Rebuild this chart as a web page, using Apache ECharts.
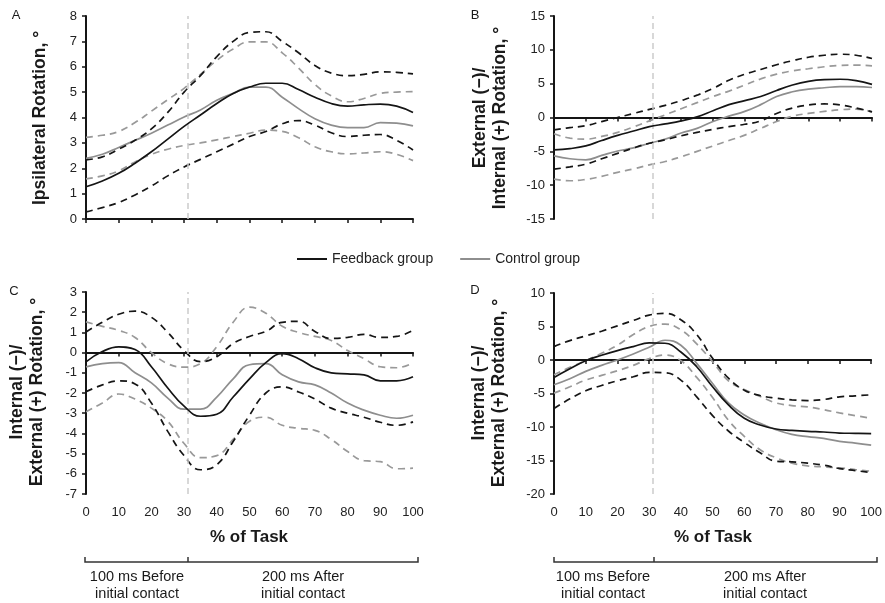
<!DOCTYPE html>
<html>
<head>
<meta charset="utf-8">
<script src="https://cdn.jsdelivr.net/npm/echarts@6/dist/echarts.min.js"></script>
<style>html,body{margin:0;padding:0;background:#fff;}#c{width:885px;height:603px;}</style>
</head>
<body>
<div id="c"></div>
<script>
// % of task sample positions
const xs = [0,5,10,15,20,25,30,35,40,45,50,55,60,65,70,75,80,85,90,95,100];
const xTicks = [0,10,20,30,40,50,60,70,80,90,100];
const contactPct = 31;

// Panel A: Ipsilateral rotation
const aFbMean = [1.27,1.5,1.8,2.2,2.65,3.15,3.65,4.1,4.55,4.95,5.2,5.35,5.35,5.1,4.8,4.55,4.45,4.5,4.53,4.45,4.2];
const aFbUp   = [2.33,2.45,2.75,3.1,3.55,4.2,5.0,5.65,6.4,7.0,7.35,7.38,7.0,6.55,6.05,5.75,5.65,5.7,5.8,5.78,5.72];
const aFbLo   = [0.28,0.45,0.65,0.95,1.3,1.7,2.05,2.35,2.65,2.95,3.25,3.45,3.75,3.88,3.7,3.4,3.25,3.3,3.33,3.1,2.72];
const aCtMean = [2.39,2.55,2.82,3.1,3.38,3.7,4.02,4.3,4.68,4.95,5.2,5.2,4.8,4.35,3.95,3.7,3.6,3.6,3.8,3.78,3.67];
const aCtUp   = [3.22,3.3,3.45,3.8,4.25,4.7,5.15,5.7,6.25,6.7,6.98,6.98,6.55,5.95,5.3,4.85,4.62,4.75,4.95,5.0,5.02];
const aCtLo   = [1.58,1.7,1.9,2.25,2.55,2.75,2.9,3.0,3.12,3.25,3.38,3.5,3.45,3.2,2.85,2.65,2.57,2.6,2.65,2.55,2.3];

// Panel B: External(-)/Internal(+) rotation
const bFbMean = [-4.78,-4.6,-4.2,-3.4,-2.65,-2.0,-1.35,-0.95,-0.5,0.1,1.0,1.9,2.5,3.1,4.0,4.8,5.35,5.6,5.65,5.45,4.9];
const bFbUp   = [-1.82,-1.5,-1.2,-0.6,0.0,0.6,1.2,1.8,2.5,3.3,4.3,5.5,6.4,7.1,7.8,8.4,8.9,9.2,9.35,9.2,8.72];
const bFbLo   = [-7.64,-7.3,-6.9,-6.1,-5.3,-4.5,-3.8,-3.3,-2.7,-2.2,-1.75,-1.35,-1.0,-0.5,0.6,1.4,1.85,2.0,1.85,1.4,0.84];
const bCtMean = [-5.67,-6.1,-6.25,-5.6,-4.95,-4.5,-3.8,-3.2,-2.3,-1.6,-0.6,0.2,0.9,1.9,3.1,3.8,4.2,4.4,4.55,4.55,4.43];
const bCtUp   = [-2.4,-3.05,-3.2,-2.8,-2.2,-1.4,-0.5,0.4,1.3,2.2,3.1,3.9,4.8,5.7,6.4,6.9,7.2,7.5,7.7,7.75,7.64];
const bCtLo   = [-9.1,-9.35,-9.15,-8.7,-8.1,-7.6,-7.0,-6.5,-5.8,-5.0,-4.2,-3.4,-2.6,-1.6,-0.6,0.2,0.6,0.9,1.15,1.25,0.84];

// Panel C: Internal(-)/External(+) rotation
const cFbMean = [-0.46,0.05,0.28,0.15,-0.7,-1.75,-2.65,-3.15,-3.05,-2.2,-1.3,-0.5,-0.05,-0.3,-0.75,-1.0,-1.05,-1.1,-1.4,-1.4,-1.2];
const cFbUp   = [1.02,1.5,1.9,2.05,1.75,1.0,0.1,-0.45,-0.2,0.45,0.8,1.05,1.5,1.55,1.05,0.7,0.75,0.9,0.75,0.8,1.1];
const cFbLo   = [-1.94,-1.6,-1.4,-1.55,-2.5,-3.9,-5.1,-5.8,-5.55,-4.4,-3.1,-2.0,-1.7,-1.95,-2.3,-2.75,-3.0,-3.2,-3.45,-3.6,-3.43];
const cCtMean = [-0.71,-0.55,-0.5,-1.0,-1.5,-2.25,-2.8,-2.8,-2.2,-1.3,-0.6,-0.55,-1.1,-1.45,-1.6,-2.0,-2.5,-2.85,-3.1,-3.25,-3.1];
const cCtUp   = [1.52,1.3,1.1,0.75,0.0,-0.55,-0.72,-0.55,0.3,1.5,2.25,1.95,1.3,1.0,0.8,0.6,0.1,-0.3,-0.7,-0.75,-0.5];
const cCtLo   = [-2.93,-2.5,-2.05,-2.3,-2.75,-3.4,-4.5,-5.2,-5.1,-4.3,-3.4,-3.2,-3.6,-3.75,-3.85,-4.3,-4.9,-5.35,-5.4,-5.75,-5.72];

// Panel D: Internal(-)/External(+) rotation
const dFbMean = [-2.6,-1.3,-0.1,0.7,1.4,2.0,2.55,2.5,1.2,-1.0,-4.0,-6.7,-8.7,-9.7,-10.3,-10.5,-10.65,-10.75,-10.9,-10.95,-11.0];
const dFbUp   = [2.0,2.9,3.6,4.3,5.1,5.9,6.7,6.95,6.0,3.8,0.25,-2.7,-4.5,-5.3,-5.7,-5.95,-6.05,-5.9,-5.5,-5.35,-5.2];
const dFbLo   = [-7.25,-5.8,-4.6,-3.8,-3.1,-2.5,-1.85,-1.9,-3.0,-5.5,-8.3,-10.6,-12.3,-13.85,-15.1,-15.2,-15.4,-15.7,-16.2,-16.5,-16.8];
const dCtMean = [-3.7,-2.8,-1.7,-0.8,0.0,0.9,1.9,2.95,2.2,-0.5,-3.5,-6.4,-8.2,-9.45,-10.4,-11.1,-11.45,-11.7,-12.15,-12.4,-12.7];
const dCtUp   = [-2.2,-1.1,-0.1,1.0,2.2,3.8,5.0,5.35,4.5,2.4,-0.25,-3.1,-4.4,-5.45,-6.4,-6.8,-7.0,-7.4,-7.9,-8.3,-8.7];
const dCtLo   = [-4.95,-4.0,-3.0,-2.3,-1.6,-0.8,0.2,0.75,-0.1,-2.6,-5.6,-9.0,-11.4,-13.4,-14.6,-15.4,-15.8,-15.95,-16.1,-16.35,-16.6];

const FONT = 'Liberation Sans, Arial, Helvetica, sans-serif';
const BLACK = '#151515';
const GRAY = '#8e8e8e';
const GRAYD = '#999999';

const chart = echarts.init(document.getElementById('c'), null, {renderer: 'canvas'});

function pairs(vals){ return xs.map((x,i)=>[x, vals[i]]); }
function ser(name, xi, yi, vals, color, dashed, z){
  return {
    type:'line', name:name, xAxisIndex:xi, yAxisIndex:yi, data:pairs(vals),
    smooth:0.45, symbol:'none', showSymbol:false, silent:true, z:z,
    lineStyle:{color:color, width:1.7, type: dashed ? [7,5] : 'solid'},
    itemStyle:{color:color}
  };
}
function vline(xi, yi){
  return {
    type:'line', name:'contact', xAxisIndex:xi, yAxisIndex:yi, data:[], silent:true, z:1,
    markLine:{silent:true, symbol:['none','none'], label:{show:false},
      lineStyle:{color:'#cccccc', width:1.5, type:[6,4]},
      data:[{xAxis:contactPct}]}
  };
}
function panelSeries(xi, yi, fm, fu, fl, cm, cu, cl){
  return [
    vline(xi, yi),
    ser('Control upper', xi, yi, cu, GRAYD, true, 2),
    ser('Control lower', xi, yi, cl, GRAYD, true, 2),
    ser('Control group', xi, yi, cm, GRAY, false, 3),
    ser('Feedback upper', xi, yi, fu, BLACK, true, 4),
    ser('Feedback lower', xi, yi, fl, BLACK, true, 4),
    ser('Feedback group', xi, yi, fm, BLACK, false, 5)
  ];
}

const grids = [
  {left:86, top:16, width:327, height:203},
  {left:554, top:16, width:318, height:203},
  {left:86, top:292, width:327, height:202},
  {left:554, top:293, width:318, height:201}
];

function tickAxis(gi){
  return {
    type:'value', gridIndex:gi, min:0, max:100, interval:10, position:'bottom',
    axisLine:{show:true, onZero:true, lineStyle:{color:BLACK, width:2}},
    axisTick:{show:true, inside:false, length:4, lineStyle:{color:BLACK, width:1.5}},
    axisLabel:{show:false}, splitLine:{show:false}
  };
}
function labelAxis(gi){
  return {
    type:'value', gridIndex:gi, min:0, max:100, interval:10, position:'bottom',
    axisLine:{show:false, onZero:false}, axisTick:{show:false},
    axisLabel:{show:true, margin:12, fontSize:13, color:'#222', fontFamily:FONT,
      formatter:function(v){ return xTicks.indexOf(v) >= 0 ? String(v) : ''; }},
    splitLine:{show:false}
  };
}
function yAxisDef(gi, min, max, interval){
  return {
    type:'value', gridIndex:gi, min:min, max:max, interval:interval,
    axisLine:{show:true, onZero:false, lineStyle:{color:BLACK, width:2}},
    axisTick:{show:true, inside:false, length:4, lineStyle:{color:BLACK, width:1.5}},
    axisLabel:{show:true, margin:9, fontSize:13, color:'#222', fontFamily:FONT},
    splitLine:{show:false}
  };
}

function txt(x, y, text, size, weight, rot){
  return {type:'text', x:x, y:y, rotation:rot||0, silent:true,
    style:{text:text, fill:'#1a1a1a', font:(weight||'normal') + ' ' + size + 'px ' + FONT,
      textAlign:'center', textVerticalAlign:'middle', lineHeight: size*1.18}};
}
function bracket(x0, xm, x1, y){
  return [
    {type:'polyline', silent:true, shape:{points:[[x0,y-5],[x0,y],[x1,y],[x1,y-5]]},
      style:{stroke:'#333', lineWidth:1.5, fill:null}},
    {type:'line', silent:true, shape:{x1:xm, y1:y, x2:xm, y2:y-5},
      style:{stroke:'#333', lineWidth:1.5}}
  ];
}

const graphics = [
  txt(16, 15, 'A', 13, 'normal'),
  txt(475, 15, 'B', 13, 'normal'),
  txt(14, 291, 'C', 13, 'normal'),
  txt(475, 290, 'D', 13, 'normal'),
  txt(40, 118, 'Ipsilateral Rotation, °', 17.5, 'bold', Math.PI/2),
  txt(490, 118, 'External (\u2212)/\nInternal (+) Rotation, °', 17.5, 'bold', Math.PI/2),
  txt(27, 392, 'Internal (\u2212)/\nExternal (+) Rotation, °', 17.5, 'bold', Math.PI/2),
  txt(489, 393, 'Internal (\u2212)/\nExternal (+) Rotation, °', 17.5, 'bold', Math.PI/2),
  txt(249, 537, '% of Task', 17, 'bold'),
  txt(713, 537, '% of Task', 17, 'bold'),
  txt(137, 577, '100 ms Before', 14.5, 'normal'),
  txt(137, 594, 'initial contact', 14.5, 'normal'),
  txt(303, 577, '200 ms After', 14.5, 'normal'),
  txt(303, 594, 'initial contact', 14.5, 'normal'),
  txt(603, 577, '100 ms Before', 14.5, 'normal'),
  txt(603, 594, 'initial contact', 14.5, 'normal'),
  txt(765, 577, '200 ms After', 14.5, 'normal'),
  txt(765, 594, 'initial contact', 14.5, 'normal')
].concat(bracket(85, 188, 418, 562)).concat(bracket(554, 654, 877, 562));

chart.setOption({
  animation:false,
  backgroundColor:'#ffffff',
  textStyle:{fontFamily:FONT},
  grid:grids,
  legend:{
    data:[{name:'Feedback group', icon:'rect'}, {name:'Control group', icon:'rect'}],
    left:297, top:252, padding:0,
    itemWidth:30, itemHeight:2, itemGap:27,
    textStyle:{fontSize:14, color:'#222', fontFamily:FONT}, selectedMode:false
  },
  xAxis:[tickAxis(0), tickAxis(1), tickAxis(2), labelAxis(2), tickAxis(3), labelAxis(3)],
  yAxis:[yAxisDef(0,0,8,1), yAxisDef(1,-15,15,5), yAxisDef(2,-7,3,1), yAxisDef(3,-20,10,5)],
  series:[].concat(
    panelSeries(0,0,aFbMean,aFbUp,aFbLo,aCtMean,aCtUp,aCtLo),
    panelSeries(1,1,bFbMean,bFbUp,bFbLo,bCtMean,bCtUp,bCtLo),
    panelSeries(2,2,cFbMean,cFbUp,cFbLo,cCtMean,cCtUp,cCtLo),
    panelSeries(4,3,dFbMean,dFbUp,dFbLo,dCtMean,dCtUp,dCtLo)
  ),
  graphic:graphics
});
</script>
</body>
</html>
